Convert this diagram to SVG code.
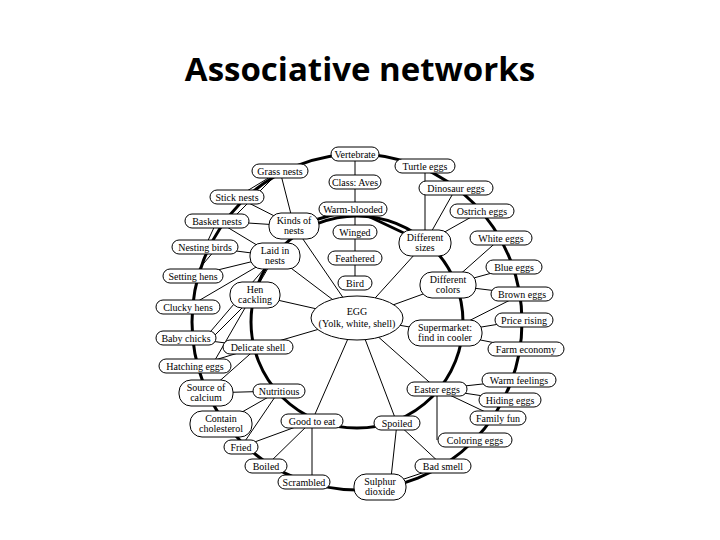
<svg xmlns="http://www.w3.org/2000/svg" width="720" height="540" viewBox="0 0 720 540">
<style>
.n rect{fill:#fff;stroke:#000;stroke-width:1}
text.l{font-family:'Liberation Serif','DejaVu Serif',serif;font-size:10px;text-anchor:middle;fill:#000}
.t{stroke:#000;stroke-width:1;fill:none}
.k{stroke:#000;stroke-width:3;fill:none}
</style>
<rect width="720" height="540" fill="#fff"/>
<text x="360" y="81" font-family="'Open Sans','Liberation Sans',sans-serif" font-weight="bold" font-size="33" text-anchor="middle">Associative networks</text>
<g id="connectors">
<ellipse class="k" cx="357" cy="322" rx="165" ry="168"/>
<circle class="k" cx="357" cy="322" r="106"/>
<path class="k" d="M294,226 L353,209 L425,243"/>
<g class="t">
<line x1="355" y1="154" x2="355" y2="283"/>
<line x1="280" y1="171" x2="237" y2="197"/>
<line x1="280" y1="171" x2="230" y2="221"/>
<line x1="280" y1="171" x2="294" y2="226"/>
<line x1="237" y1="197" x2="294" y2="226"/>
<line x1="217" y1="221" x2="294" y2="226"/>
<line x1="217" y1="221" x2="205" y2="247"/>
<line x1="217" y1="221" x2="275" y2="256"/>
<line x1="294" y1="226" x2="357" y2="318"/>
<line x1="205" y1="247" x2="275" y2="256"/>
<line x1="215" y1="250" x2="193" y2="276"/>
<line x1="193" y1="276" x2="275" y2="256"/>
<line x1="188" y1="307" x2="275" y2="256"/>
<line x1="275" y1="256" x2="357" y2="318"/>
<line x1="275" y1="256" x2="215" y2="360"/>
<line x1="275" y1="256" x2="205" y2="338"/>
<line x1="255" y1="295" x2="357" y2="318"/>
<line x1="255" y1="295" x2="215" y2="335"/>
<line x1="425" y1="166" x2="425" y2="243"/>
<line x1="456" y1="188" x2="425" y2="243"/>
<line x1="482" y1="211" x2="425" y2="243"/>
<line x1="425" y1="243" x2="357" y2="318"/>
<line x1="501" y1="238" x2="448" y2="285"/>
<line x1="514" y1="267" x2="448" y2="285"/>
<line x1="522" y1="294" x2="448" y2="285"/>
<line x1="448" y1="285" x2="357" y2="318"/>
<line x1="522" y1="294" x2="445" y2="333"/>
<line x1="524" y1="320" x2="445" y2="333"/>
<line x1="526" y1="349" x2="445" y2="333"/>
<line x1="357" y1="318" x2="445" y2="333"/>
<line x1="357" y1="318" x2="258" y2="347"/>
<line x1="357" y1="318" x2="437" y2="389"/>
<line x1="357" y1="318" x2="312" y2="421"/>
<line x1="357" y1="318" x2="397" y2="423"/>
<line x1="258" y1="347" x2="186" y2="338"/>
<line x1="258" y1="347" x2="206" y2="393"/>
<line x1="258" y1="347" x2="195" y2="366"/>
<line x1="279" y1="391" x2="206" y2="393"/>
<line x1="279" y1="391" x2="221" y2="424"/>
<line x1="279" y1="391" x2="241" y2="447"/>
<line x1="312" y1="421" x2="241" y2="447"/>
<line x1="312" y1="421" x2="266" y2="466"/>
<line x1="312" y1="421" x2="312" y2="482"/>
<line x1="437" y1="389" x2="519" y2="380"/>
<line x1="437" y1="389" x2="510" y2="400"/>
<line x1="437" y1="389" x2="498" y2="418"/>
<line x1="437" y1="389" x2="437" y2="440"/>
<line x1="397" y1="423" x2="443" y2="466"/>
<line x1="397" y1="423" x2="390" y2="487"/>
<line x1="443" y1="466" x2="380" y2="487"/>
</g>
</g>
<g id="n-vertebrate" class="n"><rect x="331" y="147" width="48" height="14" rx="7"/><text class="l" x="355" y="158">Vertebrate</text></g>
<g id="n-grass" class="n"><rect x="252" y="164" width="56" height="14" rx="7"/><text class="l" x="280" y="175">Grass nests</text></g>
<g id="n-aves" class="n"><rect x="329" y="175" width="52" height="14" rx="7"/><text class="l" x="355" y="186">Class: Aves</text></g>
<g id="n-turtle" class="n"><rect x="395" y="159" width="60" height="14" rx="7"/><text class="l" x="425" y="170">Turtle eggs</text></g>
<g id="n-dino" class="n"><rect x="419" y="181" width="74" height="14" rx="7"/><text class="l" x="456" y="192">Dinosaur eggs</text></g>
<g id="n-stick" class="n"><rect x="210" y="190" width="54" height="14" rx="7"/><text class="l" x="237" y="201">Stick nests</text></g>
<g id="n-warm" class="n"><rect x="319" y="202" width="68" height="14" rx="7"/><text class="l" x="353" y="213">Warm-blooded</text></g>
<g id="n-ostrich" class="n"><rect x="450" y="204" width="64" height="14" rx="7"/><text class="l" x="482" y="215">Ostrich eggs</text></g>
<g id="n-basket" class="n"><rect x="185" y="214" width="64" height="14" rx="7"/><text class="l" x="217" y="225">Basket nests</text></g>
<g id="n-kinds" class="n"><rect x="269" y="213" width="50" height="26" rx="12"/><text class="l" x="294" y="224">Kinds of</text><text class="l" x="294" y="234">nests</text></g>
<g id="n-winged" class="n"><rect x="333" y="225" width="44" height="14" rx="7"/><text class="l" x="355" y="236">Winged</text></g>
<g id="n-sizes" class="n"><rect x="399" y="230" width="52" height="26" rx="12"/><text class="l" x="425" y="241">Different</text><text class="l" x="425" y="251">sizes</text></g>
<g id="n-white" class="n"><rect x="470" y="231" width="62" height="14" rx="7"/><text class="l" x="501" y="242">White eggs</text></g>
<g id="n-nesting" class="n"><rect x="172" y="240" width="66" height="14" rx="7"/><text class="l" x="205" y="251">Nesting birds</text></g>
<g id="n-laid" class="n"><rect x="250" y="243" width="50" height="26" rx="12"/><text class="l" x="275" y="254">Laid in</text><text class="l" x="275" y="264">nests</text></g>
<g id="n-feathered" class="n"><rect x="328" y="251" width="54" height="14" rx="7"/><text class="l" x="355" y="262">Feathered</text></g>
<g id="n-blue" class="n"><rect x="486" y="260" width="56" height="14" rx="7"/><text class="l" x="514" y="271">Blue eggs</text></g>
<g id="n-setting" class="n"><rect x="163" y="269" width="60" height="14" rx="7"/><text class="l" x="193" y="280">Setting hens</text></g>
<g id="n-bird" class="n"><rect x="338" y="276" width="34" height="14" rx="7"/><text class="l" x="355" y="287">Bird</text></g>
<g id="n-colors" class="n"><rect x="420" y="272" width="56" height="26" rx="12"/><text class="l" x="448" y="283">Different</text><text class="l" x="448" y="293">colors</text></g>
<g id="n-hen" class="n"><rect x="230" y="282" width="50" height="26" rx="12"/><text class="l" x="255" y="293">Hen</text><text class="l" x="255" y="303">cackling</text></g>
<g id="n-brown" class="n"><rect x="491" y="287" width="62" height="14" rx="7"/><text class="l" x="522" y="298">Brown eggs</text></g>
<g id="n-clucky" class="n"><rect x="156" y="300" width="64" height="14" rx="7"/><text class="l" x="188" y="311">Clucky hens</text></g>
<g id="n-egg"><ellipse cx="357" cy="318" rx="46" ry="22" fill="#fff" stroke="#000"/><text class="l" x="357" y="315">EGG</text><text class="l" x="357" y="327">(Yolk, white, shell)</text></g>
<g id="n-price" class="n"><rect x="495" y="313" width="58" height="14" rx="7"/><text class="l" x="524" y="324">Price rising</text></g>
<g id="n-super" class="n"><rect x="408" y="320" width="74" height="26" rx="12"/><text class="l" x="445" y="331">Supermarket:</text><text class="l" x="445" y="341">find in cooler</text></g>
<g id="n-baby" class="n"><rect x="156" y="331" width="60" height="14" rx="7"/><text class="l" x="186" y="342">Baby chicks</text></g>
<g id="n-delicate" class="n"><rect x="223" y="340" width="70" height="14" rx="7"/><text class="l" x="258" y="351">Delicate shell</text></g>
<g id="n-farm" class="n"><rect x="488" y="342" width="76" height="14" rx="7"/><text class="l" x="526" y="353">Farm economy</text></g>
<g id="n-hatching" class="n"><rect x="159" y="359" width="72" height="14" rx="7"/><text class="l" x="195" y="370">Hatching eggs</text></g>
<g id="n-warmf" class="n"><rect x="482" y="373" width="74" height="14" rx="7"/><text class="l" x="519" y="384">Warm feelings</text></g>
<g id="n-calcium" class="n"><rect x="179" y="380" width="54" height="26" rx="12"/><text class="l" x="206" y="391">Source of</text><text class="l" x="206" y="401">calcium</text></g>
<g id="n-nutritious" class="n"><rect x="253" y="384" width="52" height="14" rx="7"/><text class="l" x="279" y="395">Nutritious</text></g>
<g id="n-easter" class="n"><rect x="407" y="382" width="60" height="14" rx="7"/><text class="l" x="437" y="393">Easter eggs</text></g>
<g id="n-hiding" class="n"><rect x="479" y="393" width="62" height="14" rx="7"/><text class="l" x="510" y="404">Hiding eggs</text></g>
<g id="n-chol" class="n"><rect x="190" y="411" width="62" height="26" rx="12"/><text class="l" x="221" y="422">Contain</text><text class="l" x="221" y="432">cholesterol</text></g>
<g id="n-good" class="n"><rect x="281" y="414" width="62" height="14" rx="7"/><text class="l" x="312" y="425">Good to eat</text></g>
<g id="n-spoiled" class="n"><rect x="374" y="416" width="46" height="14" rx="7"/><text class="l" x="397" y="427">Spoiled</text></g>
<g id="n-family" class="n"><rect x="470" y="411" width="56" height="14" rx="7"/><text class="l" x="498" y="422">Family fun</text></g>
<g id="n-coloring" class="n"><rect x="438" y="433" width="74" height="14" rx="7"/><text class="l" x="475" y="444">Coloring eggs</text></g>
<g id="n-fried" class="n"><rect x="224" y="440" width="34" height="14" rx="7"/><text class="l" x="241" y="451">Fried</text></g>
<g id="n-boiled" class="n"><rect x="245" y="459" width="42" height="14" rx="7"/><text class="l" x="266" y="470">Boiled</text></g>
<g id="n-bad" class="n"><rect x="415" y="459" width="56" height="14" rx="7"/><text class="l" x="443" y="470">Bad smell</text></g>
<g id="n-scrambled" class="n"><rect x="278" y="475" width="52" height="14" rx="7"/><text class="l" x="304" y="486">Scrambled</text></g>
<g id="n-sulphur" class="n"><rect x="354" y="474" width="52" height="26" rx="12"/><text class="l" x="380" y="485">Sulphur</text><text class="l" x="380" y="495">dioxide</text></g>
</svg>
